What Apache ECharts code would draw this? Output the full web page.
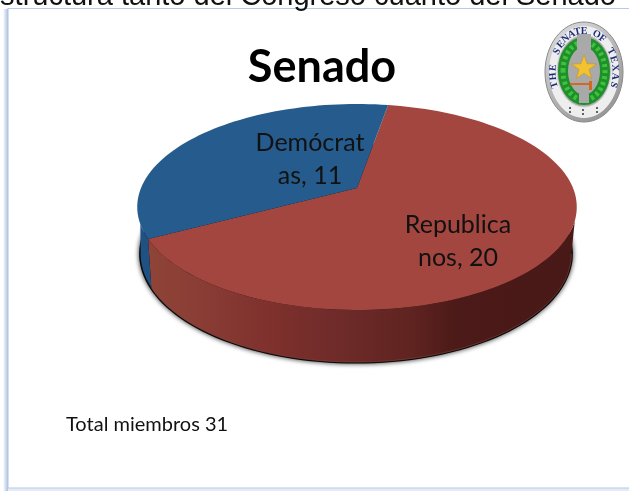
<!DOCTYPE html>
<html>
<head>
<meta charset="UTF-8">
<title>Senado</title>
<style>html,body{margin:0;padding:0;background:#fff}#charts{width:629px;height:491px}</style>
</head>
<body>
<div id="charts"></div>
<script src="https://cdn.jsdelivr.net/npm/echarts@6/dist/echarts.min.js"></script>
<script>
var categories = ['Republicanos', 'Demócratas'];
var values = [20, 11];
var labelBreaks = [9, 8];
var titleText = 'Senado';
var noteText = 'Total miembros 31';
var headerText = 'structura tanto del Congreso cuanto del Senado';
var sealText = 'THE SENATE OF TEXAS';

var mycharts = echarts.init(document.getElementById('charts'));

// pie in perspective: angle is clockwise from the top of the disc
var X0 = 357, Y0 = 188, A = 216, B = 99.5, K = 0.1845;
var START = 9.8;
// part of the rim facing the viewer, upper and lower edge of the wall
var TOP_FROM = 108, TOP_TO = 250, LOW_FROM = 100.6, LOW_TO = 259.4;
var total = values.reduce(function (a, b) { return a + b; }, 0);

function topPt(deg) {
    var t = deg * Math.PI / 180, u = Math.sin(t), v = -Math.cos(t), w = 1 - K * v;
    return [X0 + A * u / w, Y0 + B * v / w];
}
function lowPt(deg) {
    var t = deg * Math.PI / 180, u = Math.sin(t), v = -Math.cos(t), w = 1 - K * v;
    return [X0 - 1 + A * 0.98 * u / w, Y0 + 46 + B * 1.05 * v / w];
}
function arc(fn, a, b) {
    var pts = [], n = Math.max(2, Math.ceil(Math.abs(b - a) / 2));
    for (var i = 0; i <= n; i++) pts.push(fn(a + (b - a) * i / n));
    return pts;
}
function sliceStart(i) {
    var s = 0;
    for (var j = 0; j < i; j++) s += values[j];
    return START + s / total * 360;
}

var topColors = ['#a3463f', '#265c8d'];
var wallColors = [
    new echarts.graphic.LinearGradient(0, 0, 1, 0, [
        {offset: 0, color: '#8f4437'},
        {offset: 0.12, color: '#8a3d35'},
        {offset: 0.3, color: '#7d302c'},
        {offset: 0.45, color: '#6e2b29'},
        {offset: 0.62, color: '#5f2320'},
        {offset: 0.72, color: '#4c1a18'},
        {offset: 1, color: '#481917'}
    ]),
    '#1f5183'
];
var labelPos = [[458, 241], [310, 159]];

function renderSlice(params) {
    var i = params.dataIndex;
    var a = sliceStart(i), b = sliceStart(i + 1);
    var children = [];
    if (i === 0) {
        children.push({
            type: 'polygon',
            shape: {points: arc(lowPt, 0, 360)},
            style: {fill: '#0a0a0a', stroke: '#0a0a0a', lineWidth: 3, shadowBlur: 5, shadowColor: 'rgba(0,0,0,0.7)'}
        });
    }
    var ta = Math.max(a, TOP_FROM), tb = Math.min(b, TOP_TO);
    var la = Math.max(a, LOW_FROM), lb = Math.min(b, LOW_TO);
    if (tb > ta) {
        children.push({
            type: 'polygon',
            shape: {points: arc(topPt, ta, tb).concat(arc(lowPt, lb, la))},
            style: {fill: wallColors[i]}
        });
        if (i === 0) {
            children.push({
                type: 'polyline',
                shape: {points: arc(lowPt, la, lb)},
                style: {fill: 'none', stroke: 'rgba(150,75,65,0.55)', lineWidth: 1}
            });
        }
    }
    children.push({
        type: 'polygon',
        shape: {points: [[X0, Y0]].concat(arc(topPt, a, b))},
        style: {fill: topColors[i]}
    });
    children.push({
        type: 'text',
        style: {
            x: labelPos[i][0], y: labelPos[i][1],
            text: categories[i].slice(0, labelBreaks[i]) + '\n' + categories[i].slice(labelBreaks[i]) + ', ' + values[i],
            align: 'center', verticalAlign: 'middle',
            font: '25px Lato', lineHeight: 33, fill: '#111'
        }
    });
    return {type: 'group', children: children};
}

// seal, top right
var SX = 584, SY = 72;
var GREY = '#a9a9a9';
var seal = [
    {type: 'ellipse', shape: {cx: SX, cy: SY, rx: 39, ry: 50},
        style: {fill: new echarts.graphic.LinearGradient(0, 0, 1, 1, [
            {offset: 0, color: '#e2e2e2'}, {offset: 0.5, color: '#b5b5b5'}, {offset: 1, color: '#8c8c8c'}
        ]), stroke: '#8a8a8a', lineWidth: 1}},
    {type: 'ellipse', shape: {cx: SX, cy: SY, rx: 35, ry: 46}, style: {fill: '#eeeeee'}},
    {type: 'ellipse', shape: {cx: SX, cy: SY - 1, rx: 27, ry: 36}, style: {fill: GREY, stroke: '#d8d8d8', lineWidth: 1}},
    {type: 'ellipse', shape: {cx: SX, cy: SY - 1, rx: 21, ry: 29},
        style: {fill: 'none', stroke: '#1f8f2a', lineWidth: 10}},
    {type: 'ellipse', shape: {cx: SX, cy: SY - 1, rx: 21, ry: 29},
        style: {fill: 'none', stroke: '#3fc13f', lineWidth: 5, lineDash: [3, 3]}},
    {type: 'rect', shape: {x: SX - 7, y: SY - 38, width: 14, height: 15}, style: {fill: GREY}},
    {type: 'rect', shape: {x: SX - 5, y: SY + 22, width: 10, height: 9}, style: {fill: GREY}},
    {type: 'rect', shape: {x: SX - 14, y: SY + 11, width: 21, height: 2}, style: {fill: '#d2691e'}},
    {type: 'rect', shape: {x: SX + 5, y: SY + 9, width: 3, height: 9}, style: {fill: '#d2691e'}}
];
(function () {
    var pts = [];
    for (var i = 0; i < 10; i++) {
        var r = i % 2 ? 5.2 : 13, t = i * Math.PI / 5;
        pts.push([SX + r * Math.sin(t), SY - 4 - r * Math.cos(t)]);
    }
    seal.push({type: 'polygon', shape: {points: pts}, style: {fill: '#f2c230', stroke: '#c8951a', lineWidth: 0.6}});
    for (var c = 0; c < sealText.length; c++) {
        var deg = -108 + 216 * c / (sealText.length - 1), rad = deg * Math.PI / 180;
        seal.push({
            type: 'text',
            x: SX + 31 * Math.sin(rad), y: SY - 41 * Math.cos(rad),
            rotation: -rad,
            style: {text: sealText[c], font: 'bold 10px "Liberation Serif"', fill: '#1c2a78', align: 'center', verticalAlign: 'middle'}
        });
    }
    [[-14, 36], [-1, 38], [13, 36], [-14, 40], [-1, 42], [13, 40]].forEach(function (d) {
        seal.push({type: 'circle', shape: {cx: SX + d[0], cy: SY + d[1], r: 1}, style: {fill: '#333'}});
    });
})();

var option = {
    backgroundColor: '#fff',
    animation: false,
    graphic: [
        // slide panel
        {type: 'rect', z: 0, shape: {x: 3, y: 9, width: 5, height: 482},
            style: {fill: new echarts.graphic.LinearGradient(0, 0, 1, 0, [
                {offset: 0, color: '#ffffff'}, {offset: 1, color: '#a9bfdd'}
            ])}},
        {type: 'rect', z: 0, shape: {x: 8, y: 488, width: 621, height: 3}, style: {fill: '#e4ebf6'}},
        {type: 'rect', z: 0, shape: {x: 8, y: 8.5, width: 640, height: 479.5},
            style: {fill: '#fff', stroke: '#b4cbe8', lineWidth: 1.2}},
        {type: 'text', z: 1, x: 308, y: 11,
            style: {text: headerText, font: '29px "Liberation Sans"', fill: '#111', align: 'center', verticalAlign: 'bottom'}},
        {type: 'text', z: 1, x: 322, y: 67,
            style: {text: titleText, font: 'bold 45px Lato', fill: '#000', align: 'center', verticalAlign: 'middle'}},
        {type: 'text', z: 1, x: 66, y: 425,
            style: {text: noteText, font: '20px Lato', fill: '#111', align: 'left', verticalAlign: 'middle'}},
        {type: 'group', z: 1, children: seal}
    ],
    series: [{
        type: 'custom',
        coordinateSystem: 'none',
        renderItem: renderSlice,
        silent: true,
        data: categories.map(function (c, i) { return {name: c, value: values[i]}; })
    }]
};
mycharts.setOption(option);
</script>
</body>
</html>
